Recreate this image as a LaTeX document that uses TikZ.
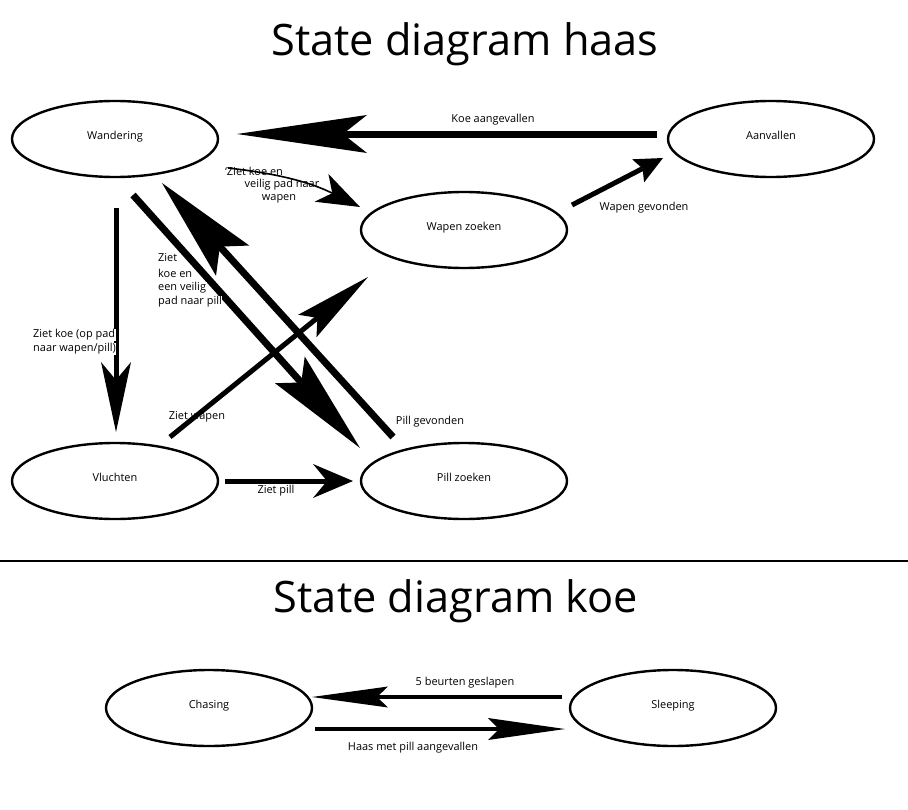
\documentclass[tikz,border=0pt]{standalone}
\usepackage{fontspec}
\setmainfont{Open Sans}
\usetikzlibrary{arrows.meta,shapes.geometric}
\tikzset{
  state/.style={draw, line width=2.4bp, ellipse, minimum width=206bp, minimum height=76bp, inner sep=0pt, font=\fontsize{11}{13}\selectfont},
  lbl/.style={font=\fontsize{11}{14.6}\selectfont, inner sep=0.5bp},
  lblw/.style={lbl, fill=white, anchor=west},
  title/.style={font=\fontsize{43.5}{52}\selectfont, inner sep=0pt},
  conn/.style={draw, line cap=butt},
}
\newcommand{\up}[1]{\raisebox{7.5bp}{#1}}
\begin{document}
\begin{tikzpicture}[x=1bp,y=-1bp]
\useasboundingbox (0,0) rectangle (908,810);
% titles
\node[title, anchor=base] (t1) at (465,56) {State diagram haas};
\node[title, anchor=base] (t2) at (456,612) {State diagram koe};
\coordinate (sepL) at (0,561);
\coordinate (sepR) at (908,561);
\draw[line width=2bp] (sepL) -- (sepR);
% states haas
\node[state] (W) at (115,139) {\up{Wandering}};
\node[state] (A) at (771,139) {\up{Aanvallen}};
\node[state] (Z) at (464,230) {\up{Wapen zoeken}};
\node[state] (V) at (115,481) {\up{Vluchten}};
\node[state] (P) at (464,481) {\up{Pill zoeken}};
% states koe
\node[state] (C) at (209,708) {\up{Chasing}};
\node[state] (S) at (673,708) {\up{Sleeping}};
% connectors haas
\draw[conn, line width=7bp, -{Stealth[length=130bp,width=38bp,inset=24bp,line width=0pt]}]
  ([shift={(-114,-5)}]A.center) -- ([shift={(122,-5)}]W.center);
\draw[conn, line width=1.6bp, -{Stealth[length=43bp,width=31bp,inset=12bp,line width=0pt]}]
  ([shift={(113,29)}]W.center) to[bend left=10] ([shift={(-104,-23)}]Z.center);
\draw[conn, line width=5bp, -{Stealth[length=28bp,width=26bp,inset=5bp,line width=0pt]}]
  ([shift={(108,-25)}]Z.center) -- ([shift={(-108,19)}]A.center);
\draw[conn, line width=5bp, -{Stealth[length=70bp,width=30bp,inset=18bp,line width=0pt]}]
  ([shift={(1,69)}]W.center) -- ([shift={(1,-49)}]V.center);
\draw[conn, line width=7bp, -{Stealth[length=105bp,width=40bp,inset=17bp,line width=0pt]}]
  ([shift={(18,56)}]W.center) -- ([shift={(-104,-33)}]P.center);
\draw[conn, line width=7bp, -{Stealth[length=105bp,width=45bp,inset=19bp,line width=0pt]}]
  ([shift={(-71,-44)}]P.center) -- ([shift={(47,44)}]W.center);
\draw[conn, line width=5bp, -{Stealth[length=78bp,width=29bp,inset=13bp,line width=0pt]}]
  ([shift={(55,-44)}]V.center) -- ([shift={(-96,47)}]Z.center);
\draw[conn, line width=5bp, -{Stealth[length=40bp,width=34bp,inset=14bp,line width=0pt]}]
  ([shift={(110,0)}]V.center) -- ([shift={(-111,0)}]P.center);
% connectors koe
\draw[conn, line width=4bp, -{Stealth[length=76bp,width=21bp,inset=11bp,line width=0pt]}]
  ([shift={(-111,-11)}]S.center) -- ([shift={(103,-11)}]C.center);
\draw[conn, line width=4bp, -{Stealth[length=77bp,width=22bp,inset=11bp,line width=0pt]}]
  ([shift={(106,21)}]C.center) -- ([shift={(-108,21)}]S.center);
% labels
\node[lbl] (l1) at (493,120) {Koe aangevallen};
\node[lbl] (l2a) at (254,171) {‘Ziet koe en};
\node[lbl] (l2b) at (282,185) {veilig pad naar};
\node[lbl] (l2c) at (279,199) {wapen};
\node[lbl] (l3) at (644,208) {Wapen gevonden};
\node[lblw] (l4a) at (32.5,335) {Ziet koe (op pad};
\node[lblw] (l4b) at (32.5,349) {naar wapen/pill)};
\node[lblw] (l5a) at (157.5,258) {Ziet};
\node[lblw] (l5b) at (157.5,273) {koe en};
\node[lblw] (l5c) at (157.5,288) {een veilig};
\node[lblw] (l5d) at (157.5,302) {pad naar pill};
\node[lbl] (l6) at (197,417) {Ziet wapen};
\node[lbl] (l7) at (430,422) {Pill gevonden};
\node[lbl] (l8) at (276,491) {Ziet pill};
\node[lbl] (l9) at (465,683) {5 beurten geslapen};
\node[lbl] (l10) at (413,748) {Haas met pill aangevallen};
\end{tikzpicture}
\end{document}
